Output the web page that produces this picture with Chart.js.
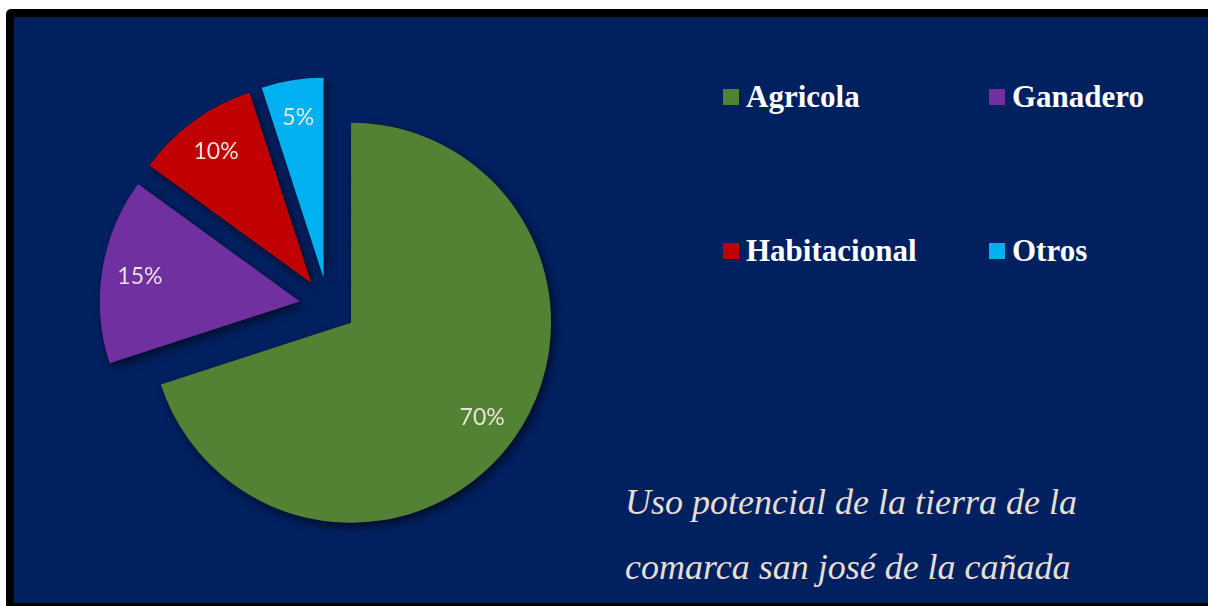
<!DOCTYPE html>
<html>
<head>
<meta charset="utf-8">
<script src="https://cdn.jsdelivr.net/npm/chart.js@4.4.0/dist/chart.umd.min.js"></script>
<style>
  html, body { margin: 0; padding: 0; background: #fff; overflow: hidden; }
  body { width: 1208px; height: 606px; position: relative; }
  #frame {
    position: absolute; left: 6px; top: 9px; width: 1220px; height: 586px;
    background: #002060; border: 8px solid #000; border-radius: 5px;
  }
  #pie { position: absolute; left: 48px; top: 26px; }
  .sw { position: absolute; width: 16px; height: 16px; }
  .lb {
    position: absolute; font-family: 'Liberation Serif', serif; font-weight: bold;
    font-size: 31px; line-height: 31px; color: #fff; white-space: nowrap;
  }
  #title {
    position: absolute; left: 625px; top: 470px; font-family: 'Liberation Serif', serif;
    font-style: italic; font-size: 36px; line-height: 65px; color: #e6dfd3; white-space: nowrap;
  }
</style>
</head>
<body>
<div id="frame"></div>
<canvas id="pie" width="560" height="560"></canvas>
<div id="legend"></div>
<div id="title">Uso potencial de la tierra de la<br>comarca san josé de la cañada</div>
<script>
const labels = ['Agricola', 'Ganadero', 'Habitacional', 'Otros'];
const values = [70, 15, 10, 5];
const colors = ['#548235', '#7030a0', '#c00000', '#00b0f0'];

const explode = 28.5; // px every slice is pulled out from the centre

// legend, 2 x 2 like the original
const legend = document.getElementById('legend');
labels.forEach((name, i) => {
    const x = 723 + (i % 2) * 266;
    const y = 89 + Math.floor(i / 2) * 154;
    const sw = document.createElement('div');
    sw.className = 'sw';
    sw.style.left = x + 'px';
    sw.style.top = y + 'px';
    sw.style.background = colors[i];
    legend.appendChild(sw);
    const lb = document.createElement('div');
    lb.className = 'lb';
    lb.style.left = (x + 23) + 'px';
    lb.style.top = (y - 8) + 'px';
    lb.textContent = name;
    legend.appendChild(lb);
});

// pull every slice out the same distance (Excel style explosion)
const explodeAll = {
    id: 'explodeAll',
    afterDatasetUpdate(chart, args) {
        args.meta.data.forEach(arc => {
            const mid = (arc.startAngle + arc.endAngle) / 2;
            arc.x += Math.cos(mid) * explode;
            arc.y += Math.sin(mid) * explode;
        });
    }
};

const shadow = {
    id: 'shadow',
    beforeDatasetsDraw(chart) {
        const ctx = chart.ctx;
        ctx.save();
        ctx.shadowColor = 'rgba(0, 0, 0, 0.6)';
        ctx.shadowBlur = 10;
        ctx.shadowOffsetX = 3;
        ctx.shadowOffsetY = 4;
    },
    afterDatasetsDraw(chart) {
        chart.ctx.restore();
    }
};

const pctLabels = {
    id: 'pctLabels',
    afterDraw(chart) {
        const ctx = chart.ctx;
        const meta = chart.getDatasetMeta(0);
        ctx.save();
        ctx.font = '23px Lato';
        ctx.fillStyle = '#e8e4dc';
        ctx.textAlign = 'center';
        ctx.textBaseline = 'middle';
        meta.data.forEach((arc, i) => {
            const mid = (arc.startAngle + arc.endAngle) / 2;
            const d = arc.outerRadius * 0.81;
            ctx.fillText(values[i] + '%', arc.x + Math.cos(mid) * d, arc.y + Math.sin(mid) * d);
        });
        ctx.restore();
    }
};

new Chart(document.getElementById('pie'), {
    type: 'pie',
    data: {
        labels: labels,
        datasets: [{
            data: values,
            backgroundColor: colors,
            borderWidth: 0,
            hoverOffset: 0
        }]
    },
    options: {
        responsive: false,
        animation: false,
        radius: 200,
        layout: { padding: 0 },
        plugins: {
            legend: { display: false },
            title: { display: false },
            tooltip: { enabled: false }
        }
    },
    plugins: [explodeAll, shadow, pctLabels]
});
</script>
</body>
</html>
